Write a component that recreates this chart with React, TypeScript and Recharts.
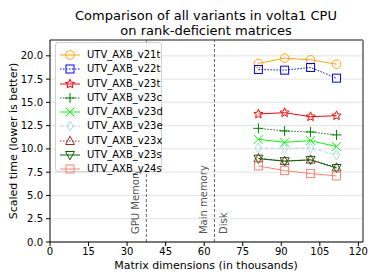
import React from "react";
import {
  ComposedChart,
  Line,
  XAxis,
  YAxis,
  CartesianGrid,
  ReferenceLine,
} from "recharts";

const xs = [81.1, 91.3, 101.4, 111.5];
const v21t = [19.18, 19.75, 19.57, 19.1];
const v22t = [18.53, 18.46, 18.75, 17.6];
const v23t = [13.75, 13.89, 13.46, 13.57];
const v23c = [12.21, 11.93, 11.82, 11.5];
const v23d = [11.03, 10.71, 10.89, 10.25];
const v23e = [10.1, 10.05, 10.1, 9.35];
const v23x = [9.0, 8.71, 8.85, 8.0];
const v23s = [8.95, 8.68, 8.82, 7.95];
const v24s = [8.17, 7.67, 7.35, 7.1];

const xTicks = [0, 15, 30, 45, 60, 75, 90, 105, 120];
const yTicks = [0, 2.5, 5, 7.5, 10, 12.5, 15, 17.5, 20];
const xDomain = [0, 121.8];
const yDomain = [0, 21.7];
const gpuMem = 37.5;
const mainMem = 64;

type Shape = "circle" | "square" | "star" | "plus" | "x" | "diamond" | "triUp" | "triDown";

const series: { key: string; name: string; values: number[]; color: string; shape: Shape; dash?: string }[] = [
  { key: "v21t", name: "UTV_AXB_v21t", values: v21t, color: "#ffa500", shape: "circle" },
  { key: "v22t", name: "UTV_AXB_v22t", values: v22t, color: "#0000ff", shape: "square", dash: "1.5 1.5" },
  { key: "v23t", name: "UTV_AXB_v23t", values: v23t, color: "#ff0000", shape: "star" },
  { key: "v23c", name: "UTV_AXB_v23c", values: v23c, color: "#008000", shape: "plus", dash: "1.5 1.5" },
  { key: "v23d", name: "UTV_AXB_v23d", values: v23d, color: "#00ff00", shape: "x" },
  { key: "v23e", name: "UTV_AXB_v23e", values: v23e, color: "#add8e6", shape: "diamond", dash: "4 2" },
  { key: "v23x", name: "UTV_AXB_v23x", values: v23x, color: "#a52a2a", shape: "triUp", dash: "1.5 1.5" },
  { key: "v23s", name: "UTV_AXB_v23s", values: v23s, color: "#006400", shape: "triDown" },
  { key: "v24s", name: "UTV_AXB_v24s", values: v24s, color: "#fa8072", shape: "square" },
];

const data = xs.map((x, i) => {
  const row: Record<string, number> = { x };
  series.forEach((s) => (row[s.key] = s.values[i]));
  return row;
});

const FONT = "DejaVu Sans, sans-serif";

function starPath(cx: number, cy: number, R: number, r: number) {
  const pts: string[] = [];
  for (let i = 0; i < 10; i++) {
    const rad = i % 2 === 0 ? R : r;
    const a = -Math.PI / 2 + (i * Math.PI) / 5;
    pts.push(`${cx + rad * Math.cos(a)},${cy + rad * Math.sin(a)}`);
  }
  return "M" + pts.join("L") + "Z";
}

function Marker({ cx, cy, color, shape }: { cx: number; cy: number; color: string; shape: Shape }) {
  const sw = 1;
  switch (shape) {
    case "circle":
      return <circle cx={cx} cy={cy} r={4.3} fill="none" stroke={color} strokeWidth={sw} />;
    case "square":
      return <rect x={cx - 4} y={cy - 4} width={8} height={8} fill="none" stroke={color} strokeWidth={sw} />;
    case "star":
      return <path d={starPath(cx, cy, 4.8, 2.2)} fill="none" stroke={color} strokeWidth={sw} />;
    case "plus":
      return (
        <g stroke={color} strokeWidth={sw}>
          <line x1={cx - 5} y1={cy} x2={cx + 5} y2={cy} />
          <line x1={cx} y1={cy - 5} x2={cx} y2={cy + 5} />
        </g>
      );
    case "x":
      return (
        <g stroke={color} strokeWidth={sw}>
          <line x1={cx - 4.5} y1={cy - 4.5} x2={cx + 4.5} y2={cy + 4.5} />
          <line x1={cx - 4.5} y1={cy + 4.5} x2={cx + 4.5} y2={cy - 4.5} />
        </g>
      );
    case "diamond":
      return (
        <path d={`M${cx},${cy - 5}L${cx + 3.2},${cy}L${cx},${cy + 5}L${cx - 3.2},${cy}Z`} fill="none" stroke={color} strokeWidth={sw} />
      );
    case "triUp":
      return (
        <path d={`M${cx},${cy - 4.8}L${cx + 4.5},${cy + 3.5}L${cx - 4.5},${cy + 3.5}Z`} fill="none" stroke={color} strokeWidth={sw} />
      );
    case "triDown":
      return (
        <path d={`M${cx},${cy + 4.8}L${cx + 4.5},${cy - 3.5}L${cx - 4.5},${cy - 3.5}Z`} fill="none" stroke={color} strokeWidth={sw} />
      );
  }
  return null;
}

function VLabel(props: any) {
  const { viewBox, items } = props;
  if (!viewBox) return null;
  const x = viewBox.x;
  const bottom = viewBox.y + viewBox.height - 8;
  return (
    <g>
      {items.map((it: { text: string; dx: number }) => (
        <text
          key={it.text}
          x={x + it.dx}
          y={bottom}
          transform={`rotate(-90, ${x + it.dx}, ${bottom})`}
          textAnchor="start"
          fontFamily={FONT}
          fontSize={10}
          fill="#555"
        >
          {it.text}
        </text>
      ))}
    </g>
  );
}

function LegendBox() {
  return (
    <div
      style={{
        position: "absolute",
        left: 55,
        top: 42,
        width: 107,
        height: 130,
        background: "rgba(255,255,255,0.9)",
        border: "1px solid #d0d0d0",
        borderRadius: 3,
        boxSizing: "border-box",
        paddingTop: 5,
      }}
    >
      {series.map((s) => (
        <div key={s.key} style={{ height: 14.25, display: "flex", alignItems: "center", position: "relative" }}>
          <svg width={26} height={14} style={{ position: "absolute", left: 2, top: 0 }}>
            <line x1={2} y1={7} x2={22} y2={7} stroke={s.color} strokeWidth={1} strokeDasharray={s.dash} />
            <Marker cx={12} cy={7} color={s.color} shape={s.shape} />
          </svg>
          <span
            style={{
              position: "absolute",
              left: 31,
              top: 0,
              lineHeight: "14px",
              fontFamily: FONT,
              fontSize: 10,
              color: "#000",
              whiteSpace: "nowrap",
            }}
          >
            {s.name}
          </span>
        </div>
      ))}
    </div>
  );
}

export default function App() {
  return (
    <div style={{ position: "absolute", left: 0, top: 0, width: 374, height: 280, background: "#fff" }}>
      <ComposedChart width={374} height={280} data={data} margin={{ top: 40, right: 11, bottom: 0, left: 0 }}>
        <CartesianGrid vertical={false} stroke="#e3e3e3" strokeWidth={1} />
        <XAxis
          dataKey="x"
          type="number"
          domain={xDomain}
          ticks={xTicks}
          allowDataOverflow
          height={38}
          tickSize={4}
          tickMargin={2}
          stroke="#000"
          tick={{ fill: "#000", fontSize: 10, fontFamily: FONT }}
        />
        <YAxis
          type="number"
          domain={yDomain}
          ticks={yTicks}
          allowDataOverflow
          width={50}
          tickSize={4}
          tickMargin={3}
          stroke="#000"
          tickFormatter={(v: number) => v.toFixed(1)}
          tick={{ fill: "#000", fontSize: 10, fontFamily: FONT }}
        />
        <ReferenceLine y={yDomain[1]} stroke="#222" strokeWidth={1} />
        <ReferenceLine x={xDomain[1]} stroke="#888" strokeWidth={2} />
        <ReferenceLine
          x={gpuMem}
          stroke="#666"
          strokeDasharray="3 2"
          label={<VLabel items={[{ text: "GPU Memory", dx: -7 }]} />}
        />
        <ReferenceLine
          x={mainMem}
          stroke="#666"
          strokeDasharray="3 2"
          label={
            <VLabel
              items={[
                { text: "Main memory", dx: -7 },
                { text: "Disk", dx: 13 },
              ]}
            />
          }
        />
        {series.map((s) => (
          <Line
            key={s.key}
            dataKey={s.key}
            name={s.name}
            stroke={s.color}
            strokeWidth={1}
            strokeDasharray={s.dash}
            isAnimationActive={false}
            activeDot={false}
            dot={(p: any) => <Marker key={`${s.key}-${p.index}`} cx={p.cx} cy={p.cy} color={s.color} shape={s.shape} />}
          />
        ))}
        <text x={206} y={20} textAnchor="middle" fontFamily={FONT} fontSize={13} fill="#000">
          Comparison of all variants in volta1 CPU
        </text>
        <text x={206} y={35} textAnchor="middle" fontFamily={FONT} fontSize={13} fill="#000">
          on rank-deficient matrices
        </text>
        <text x={206} y={269} textAnchor="middle" fontFamily={FONT} fontSize={11} fill="#000">
          Matrix dimensions (in thousands)
        </text>
        <text x={17} y={141} textAnchor="middle" transform="rotate(-90, 17, 141)" fontFamily={FONT} fontSize={11} fill="#000">
          Scaled time (lower is better)
        </text>
      </ComposedChart>
      <LegendBox />
    </div>
  );
}
